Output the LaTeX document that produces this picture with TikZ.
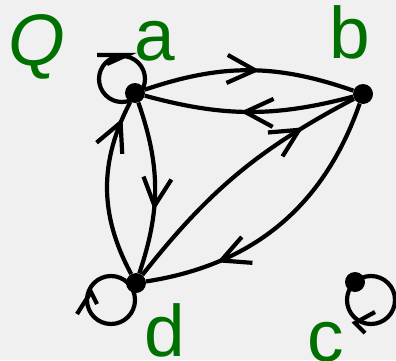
\documentclass[tikz,border=0pt]{standalone}
\usepackage{fontspec}
\setmainfont{Liberation Sans}
\usetikzlibrary{arrows.meta,decorations.markings}
\definecolor{lblgreen}{RGB}{0,112,0}
\definecolor{bggray}{RGB}{240,240,240}
\begin{document}
\begin{tikzpicture}[x=1pt,y=1pt,
  dot/.style={circle,fill=black,inner sep=0pt,minimum size=20pt},
  edgeline/.style={line width=4.2pt},
  barb/.style={postaction={decorate,decoration={markings,mark=at position #1 with {\arrow[line width=4.2pt]{Straight Barb[length=28pt,width=28pt]}}}}},
  lbl/.style={text=lblgreen,font=\fontsize{73}{80}\selectfont,inner sep=0pt,anchor=base}]
\fill[bggray] (0,0) rectangle (396,360);
\useasboundingbox (0,0) rectangle (396,360);
\node[dot] (a) at (135,267) {};
\node[dot] (b) at (363,266) {};
\node[dot] (c) at (355,78) {};
\node[dot] (d) at (136,77) {};
\draw[edgeline,barb=0.55] (a) to[bend left=19] (b);
\draw[edgeline,barb=0.54] (b) to[bend left=15] (a);
\draw[edgeline,barb=0.79] (d) to[bend left=12] (b);
\draw[edgeline,barb=0.75] (b) to[bend left=31] (d);
\draw[edgeline,barb=0.63] (a) to[bend left=19] (d);
\draw[edgeline,barb=0.9] (d) to[bend left=28] (a);
% loops
\draw[edgeline] ([shift={(-13,14)}]a.center) circle[radius=23];
\draw[edgeline] (97,305) -- (127,305) -- (107,296);
\draw[edgeline] ([shift={(-25,-17)}]d.center) circle[radius=24];
\draw[edgeline] (77,46) -- (91,68) -- (97,56);
\draw[edgeline] ([shift={(16,-18)}]c.center) circle[radius=24];
\draw[edgeline] (375,48) -- (355,37) -- (365,27);
\node[lbl] (lq) at (37,295) {\itshape Q};
\node[lbl] (la) at (155,300) {a};
\node[lbl] (lb) at (350,302) {b};
\node[lbl] (ld) at (165,4) {d};
\node[lbl] (lc) at (326,-1) {c};
\end{tikzpicture}
\end{document}
